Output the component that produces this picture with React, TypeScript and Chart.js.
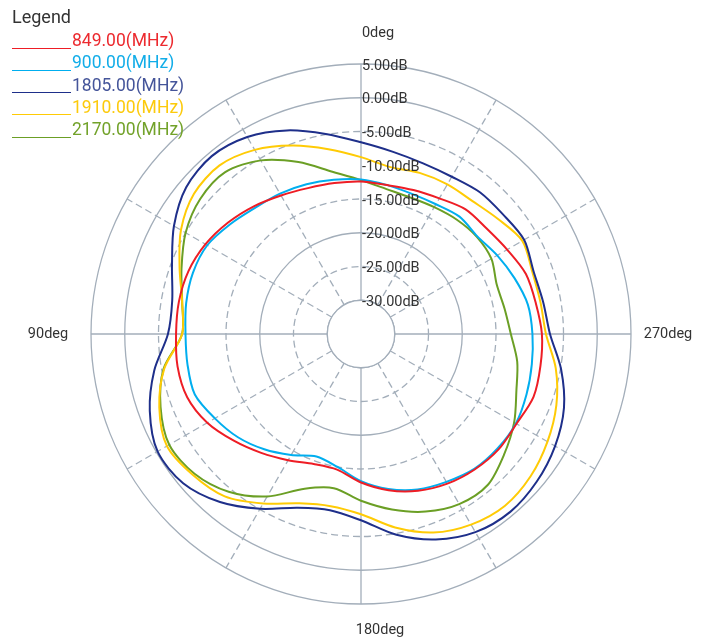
import React, { useEffect, useRef } from 'react';
import { Chart, registerables } from 'chart.js';

Chart.register(...registerables);

// Angles measured counter-clockwise from the top (0deg top, 90deg left, 180deg bottom, 270deg right)
const angles = [0, 10, 20, 30, 40, 50, 60, 70, 80, 90, 100, 110, 120, 130, 140, 150, 160, 170,
  180, 190, 200, 210, 220, 230, 240, 250, 260, 270, 280, 290, 300, 310, 320, 330, 340, 350];

const gain849 = [-12.4, -12.3, -12.0, -11.3, -10.3, -9.3, -8.4, -7.8, -7.6, -7.6, -7.4, -7.6,
  -8.7, -10.4, -12.0, -13.4, -14.5, -14.6, -13.0, -11.5, -10.3, -9.4, -8.8, -8.4,
  -8.4, -7.8, -8.0, -8.2, -8.7, -9.0, -10.0, -10.7, -10.9, -11.8, -12.3, -12.6];

const gain900 = [-12.1, -11.8, -11.4, -11.0, -10.6, -9.7, -8.7, -8.5, -8.7, -9.0, -8.9, -8.8,
  -10.0, -11.2, -12.7, -14.3, -15.7, -15.0, -13.2, -11.7, -10.5, -9.7, -8.9, -8.6,
  -8.5, -8.9, -9.3, -9.6, -9.9, -10.8, -11.7, -12.5, -12.3, -12.8, -12.9, -12.6];

const gain1805 = [-6.6, -4.9, -2.9, -1.3, -0.6, -1.2, -3.0, -5.2, -6.6, -6.4, -3.9, -1.7,
  -0.2, -0.6, -2.5, -5.1, -7.6, -8.5, -7.4, -4.8, -2.6, -1.1, -0.6, -1.0,
  -1.8, -3.0, -4.9, -7.0, -7.6, -7.8, -7.1, -7.5, -7.6, -8.1, -8.1, -7.6];

const gain1910 = [-8.8, -7.2, -5.3, -3.5, -2.4, -2.7, -4.2, -6.4, -8.1, -8.5, -5.4, -3.2,
  -1.8, -2.5, -3.6, -6.0, -8.3, -9.1, -8.3, -5.9, -3.7, -2.4, -1.8, -2.2,
  -3.1, -4.2, -5.7, -7.6, -8.0, -8.0, -7.4, -8.5, -9.3, -9.4, -9.6, -9.9];

const gain2170 = [-12.2, -10.6, -7.9, -5.3, -3.7, -3.9, -5.0, -6.7, -8.1, -8.5, -5.3, -3.4,
  -2.2, -2.8, -4.5, -7.2, -10.6, -11.8, -10.3, -8.6, -7.0, -5.9, -5.8, -7.3,
  -8.8, -10.5, -11.5, -12.8, -13.4, -13.6, -12.7, -12.6, -12.9, -13.3, -13.5, -13.2];

const seriesNames = ['849.00(MHz)', '900.00(MHz)', '1805.00(MHz)', '1910.00(MHz)', '2170.00(MHz)'];
const seriesValues = [gain849, gain900, gain1805, gain1910, gain2170];
const seriesColors = ['#ee1d25', '#00aeef', '#1e2f8a', '#ffcb05', '#6b9f25'];
const legendTextColors = ['#ec2a2f', '#12ade8', '#45559a', '#fcca0c', '#72a22a'];

const tickValues = [5, 0, -5, -10, -15, -20, -25, -30];
const tickLabels = ['5.00dB', '0.00dB', '-5.00dB', '-10.00dB', '-15.00dB', '-20.00dB', '-25.00dB', '-30.00dB'];
const axisLabels = ['0deg', '90deg', '180deg', '270deg'];

const scaleMin = -35;
const scaleMax = 5;
const hiddenRings = [-35, -10];
const dashedRings = [-5, -15, -25];

const GRID = '#a3aeba';
const TEXT = '#333333';
const FONT = 'Roboto, "Noto Sans", sans-serif';

// Chart.js radar runs clockwise; reverse so the angle grows counter-clockwise.
const order = angles.map((_, i) => (angles.length - i) % angles.length);

const innerHolePlugin = {
  id: 'innerHole',
  beforeDatasetsDraw(chart: any) {
    const s = chart.scales.r;
    const ctx = chart.ctx;
    const r = s.getDistanceFromCenterForValue(-30);
    ctx.save();
    ctx.beginPath();
    ctx.arc(s.xCenter, s.yCenter, r, 0, Math.PI * 2);
    ctx.fillStyle = '#ffffff';
    ctx.fill();
    ctx.strokeStyle = GRID;
    ctx.lineWidth = 1.3;
    ctx.setLineDash([]);
    ctx.stroke();
    ctx.restore();
  },
};

const labelPlugin = {
  id: 'polarLabels',
  afterDatasetsDraw(chart: any) {
    const s = chart.scales.r;
    const ctx = chart.ctx;
    ctx.save();
    ctx.fillStyle = TEXT;
    ctx.font = `14.5px ${FONT}`;
    ctx.textAlign = 'left';
    ctx.textBaseline = 'middle';
    tickValues.forEach((v, i) => {
      const d = s.getDistanceFromCenterForValue(v);
      ctx.fillText(tickLabels[i], s.xCenter + 1, s.yCenter - d + 2);
    });
    const R = s.getDistanceFromCenterForValue(scaleMax);
    ctx.textAlign = 'center';
    ctx.fillText(axisLabels[0], s.xCenter + 17, s.yCenter - R - 31);
    ctx.fillText(axisLabels[1], s.xCenter - R - 43, s.yCenter);
    ctx.fillText(axisLabels[2], s.xCenter + 19, s.yCenter + R + 26);
    ctx.fillText(axisLabels[3], s.xCenter + R + 37, s.yCenter);
    ctx.restore();
  },
};

export default function App() {
  const ref = useRef<HTMLCanvasElement | null>(null);

  useEffect(() => {
    if (!ref.current) return;
    const chart = new Chart(ref.current, {
      type: 'radar',
      data: {
        labels: order.map((k) => `${angles[k]}deg`),
        datasets: seriesNames.map((name, si) => ({
          label: name,
          data: order.map((k) => seriesValues[si][k]),
          borderColor: seriesColors[si],
          backgroundColor: seriesColors[si],
          borderWidth: 2,
          pointRadius: 0,
          pointHoverRadius: 0,
          fill: false,
          tension: 0.3,
        })),
      },
      options: {
        responsive: false,
        animation: false,
        devicePixelRatio: 1,
        events: [],
        layout: { padding: { left: 91, top: 64, right: 75, bottom: 36 } },
        plugins: {
          legend: { display: false },
          tooltip: { enabled: false },
        },
        scales: {
          r: {
            min: scaleMin,
            max: scaleMax,
            beginAtZero: false,
            ticks: { stepSize: 5, display: false },
            pointLabels: { display: false },
            grid: {
              circular: true,
              color: (c: any) => (hiddenRings.includes(c.tick?.value) ? 'rgba(0,0,0,0)' : GRID),
              lineWidth: 1.3,
            },
            border: {
              dash: (c: any) => (dashedRings.includes(c.tick?.value) ? [7, 4] : []),
            },
            angleLines: {
              display: true,
              color: GRID,
              lineWidth: (c: any) => (c.index % 3 === 0 ? 1.3 : 0),
              borderDash: (c: any) => (c.index % 9 === 0 ? [] : [7, 4]),
            },
          },
        },
      },
      plugins: [innerHolePlugin, labelPlugin],
    } as any);
    return () => chart.destroy();
  }, []);

  return (
    <div style={{ position: 'absolute', left: 0, top: 0, width: 707, height: 641, background: '#fff', overflow: 'hidden' }}>
      <canvas ref={ref} width={707} height={641} style={{ position: 'absolute', left: 0, top: 0, display: 'block' }} />
      <div style={{ position: 'absolute', left: 12, top: 4.5, font: `18px ${FONT}`, lineHeight: '24px', color: TEXT, whiteSpace: 'nowrap' }}>
        Legend
      </div>
      {seriesNames.map((name, i) => (
        <React.Fragment key={name}>
          <div style={{ position: 'absolute', left: 12, top: 47.5 + i * 22.25, width: 59, height: 1, background: seriesColors[i] }} />
          <div style={{ position: 'absolute', left: 72, top: 29 + i * 22.25, font: `17.5px ${FONT}`, lineHeight: '22px', color: legendTextColors[i], whiteSpace: 'nowrap' }}>
            {name}
          </div>
        </React.Fragment>
      ))}
    </div>
  );
}
